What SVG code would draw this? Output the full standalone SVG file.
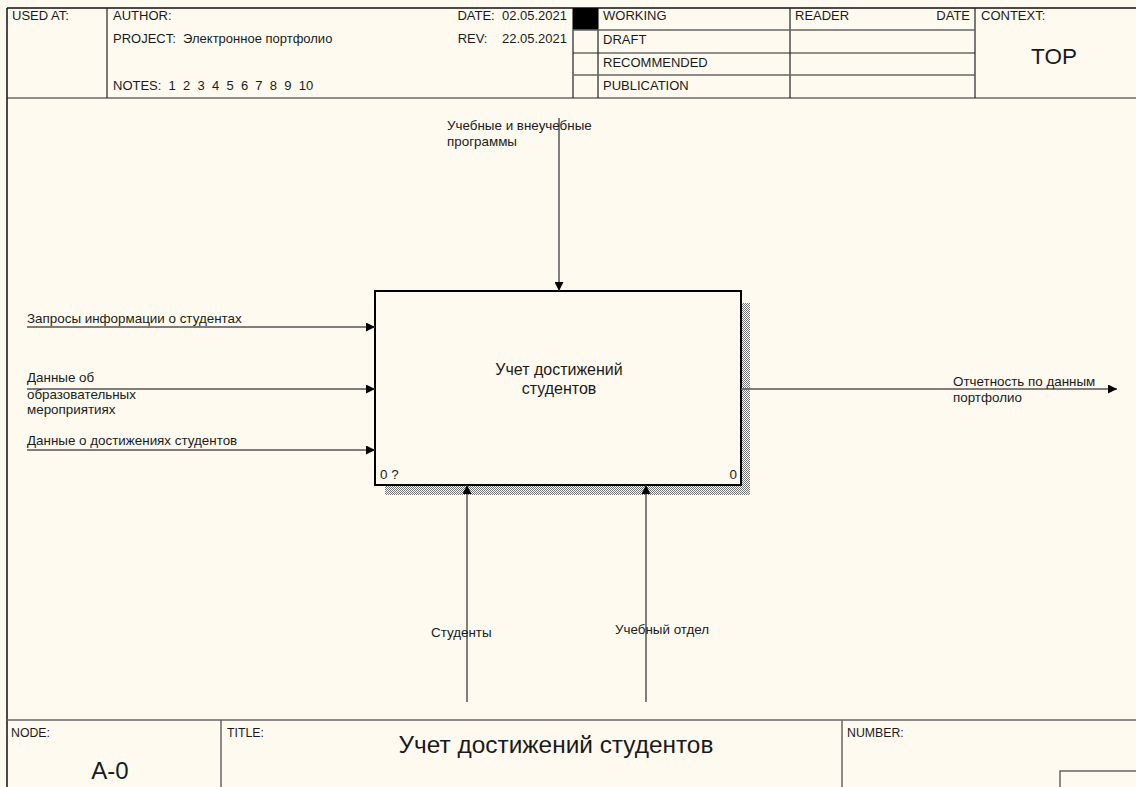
<svg xmlns="http://www.w3.org/2000/svg" width="1136" height="787" viewBox="0 0 1136 787">
<style>
text{font-family:"Liberation Sans",Arial,sans-serif;fill:#1a1a1a}
.s{font-size:13.4px}
.h{font-size:13px}
.xs{font-size:12.3px}
.frame{fill:none;stroke:#111;stroke-width:1.5}
.grid{stroke:#222;stroke-width:1.2}
.gray{stroke:#666;stroke-width:1.5}
.conn{stroke:#555;stroke-width:1.5;fill:none}
</style>
<defs>
<marker id="ah" viewBox="0 0 10 10" refX="10" refY="5" markerWidth="13" markerHeight="9" markerUnits="userSpaceOnUse" orient="auto">
<path d="M0,0 L10,5 L0,10 z" fill="#000"/>
</marker>
<pattern id="hatch" width="2" height="2" patternUnits="userSpaceOnUse">
<rect width="2" height="2" fill="#fffaf0"/>
<rect width="1" height="1" fill="#777"/>
<rect x="1" y="1" width="1" height="1" fill="#777"/>
</pattern>
</defs>
<rect width="1136" height="787" fill="#fffaf0"/>
<g id="frame">
<path class="frame" d="M7,8 H1136 M7,8 V787" stroke-width="2"/>
<line class="grid" x1="7" y1="98" x2="1136" y2="98"/>
<line class="grid" x1="107" y1="8" x2="107" y2="98"/>
<line class="grid" x1="573" y1="8" x2="573" y2="98"/>
<line class="grid" x1="598" y1="8" x2="598" y2="98"/>
<line class="grid" x1="790" y1="8" x2="790" y2="98"/>
<line class="grid" x1="975" y1="8" x2="975" y2="98"/>
<rect x="573" y="8" width="25" height="22" fill="#000"/>
<line class="gray" x1="573" y1="30" x2="975" y2="30"/>
<line class="grid" x1="573" y1="53" x2="975" y2="53"/>
<line class="gray" x1="573" y1="75" x2="975" y2="75"/>
<text class="h" x="12" y="20">USED AT:</text>
<text class="h" x="113" y="20">AUTHOR:</text>
<text class="h" x="113" y="43" xml:space="preserve">PROJECT:  Электронное портфолио</text>
<text class="h" x="113" y="90" xml:space="preserve">NOTES:  1  2  3  4  5  6  7  8  9  10</text>
<text class="h" x="567" y="20" text-anchor="end" xml:space="preserve">DATE:  02.05.2021</text>
<text class="h" x="567" y="43" text-anchor="end" xml:space="preserve">REV:    22.05.2021</text>
<text class="h" x="603" y="20">WORKING</text>
<text class="h" x="603" y="44">DRAFT</text>
<text class="h" x="603" y="67">RECOMMENDED</text>
<text class="h" x="603" y="90">PUBLICATION</text>
<text class="h" x="795" y="20">READER</text>
<text class="h" x="970" y="20" text-anchor="end">DATE</text>
<text class="h" x="981" y="20">CONTEXT:</text>
<text x="1054" y="64" font-size="22.5" text-anchor="middle">TOP</text>
<line class="gray" x1="7" y1="720" x2="1136" y2="720"/>
<line class="gray" x1="221" y1="720" x2="221" y2="787"/>
<line class="gray" x1="842" y1="720" x2="842" y2="787"/>
<path class="gray" d="M1060,787 V771 H1136" fill="none"/>
<text class="xs" x="11" y="737">NODE:</text>
<text x="110" y="779" font-size="24" text-anchor="middle">A-0</text>
<text class="xs" x="227" y="737">TITLE:</text>
<text x="556" y="753" font-size="24.4" text-anchor="middle">Учет достижений студентов</text>
<text class="xs" x="847" y="737">NUMBER:</text>
</g>
<g id="node-A0">
<rect x="741" y="303" width="9" height="192" fill="url(#hatch)"/>
<rect x="385" y="485" width="365" height="10" fill="url(#hatch)"/>
<rect x="375" y="291" width="366" height="194" fill="#fffaf0" stroke="#000" stroke-width="2"/>
<text x="559" y="375" font-size="16" text-anchor="middle">Учет достижений</text>
<text x="559" y="394" font-size="16" text-anchor="middle">студентов</text>
<text class="s" x="380" y="479">0 ?</text>
<text class="s" x="737" y="479" text-anchor="end">0</text>
</g>
<g id="connectors">
<line class="conn" x1="559" y1="118" x2="559" y2="291" marker-end="url(#ah)"/>
<line class="conn" x1="27" y1="327" x2="375" y2="327" stroke="#222" marker-end="url(#ah)"/>
<line class="conn" x1="27" y1="389" x2="375" y2="389" stroke="#222" marker-end="url(#ah)"/>
<line class="conn" x1="27" y1="450" x2="375" y2="450" stroke="#222" marker-end="url(#ah)"/>
<line class="conn" x1="741" y1="389" x2="1117" y2="389" stroke="#222" marker-end="url(#ah)"/>
<line class="conn" x1="467" y1="702" x2="467" y2="485" marker-end="url(#ah)"/>
<line class="conn" x1="646" y1="702" x2="646" y2="485" marker-end="url(#ah)"/>
<text class="s" x="447" y="130">Учебные и внеучебные</text>
<text class="s" x="447" y="146">программы</text>
<text class="s" x="27" y="323">Запросы информации о студентах</text>
<text class="s" x="27" y="382">Данные об</text>
<text class="s" x="27" y="399">образовательных</text>
<text class="s" x="27" y="414">мероприятиях</text>
<text class="s" x="27" y="445">Данные о достижениях студентов</text>
<text class="s" x="953" y="386">Отчетность по данным</text>
<text class="s" x="953" y="402">портфолио</text>
<text class="s" x="431" y="637">Студенты</text>
<text class="s" x="615" y="634">Учебный отдел</text>
</g>
</svg>
